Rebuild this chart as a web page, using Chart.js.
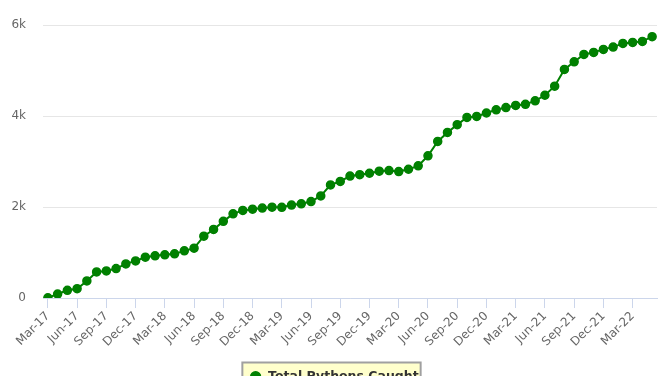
<!DOCTYPE html>
<html>
<head>
<meta charset="utf-8">
<script src="https://cdn.jsdelivr.net/npm/chart.js@4/dist/chart.umd.min.js"></script>
<style>
  html, body { margin: 0; padding: 0; background: #fff; overflow: hidden; }
  #wrap { width: 668px; height: 393px; position: relative; }
</style>
</head>
<body>
<div id="wrap"><canvas id="pythonChart"></canvas></div>
<script>
// Months, Mar-17 .. May-22
const months = [
  "Mar-17", "Apr-17", "May-17", "Jun-17", "Jul-17", "Aug-17", "Sep-17", "Oct-17", "Nov-17", "Dec-17",
  "Jan-18", "Feb-18", "Mar-18", "Apr-18", "May-18", "Jun-18", "Jul-18", "Aug-18", "Sep-18", "Oct-18", "Nov-18", "Dec-18",
  "Jan-19", "Feb-19", "Mar-19", "Apr-19", "May-19", "Jun-19", "Jul-19", "Aug-19", "Sep-19", "Oct-19", "Nov-19", "Dec-19",
  "Jan-20", "Feb-20", "Mar-20", "Apr-20", "May-20", "Jun-20", "Jul-20", "Aug-20", "Sep-20", "Oct-20", "Nov-20", "Dec-20",
  "Jan-21", "Feb-21", "Mar-21", "Apr-21", "May-21", "Jun-21", "Jul-21", "Aug-21", "Sep-21", "Oct-21", "Nov-21", "Dec-21",
  "Jan-22", "Feb-22", "Mar-22", "Apr-22", "May-22",
];

// Cumulative count of pythons caught
const pythonsCaught = [
  5, 88, 170, 205, 375, 574, 596, 647, 750, 816,
  897, 927, 949, 971, 1037, 1096, 1360, 1507, 1685, 1850, 1926, 1952,
  1978, 1996, 1993, 2044, 2070, 2120, 2243, 2486, 2562, 2680, 2710, 2742,
  2787, 2802, 2780, 2830, 2905, 3126, 3441, 3640, 3810, 3970, 3990, 4066,
  4136, 4185, 4232, 4257, 4335, 4456, 4655, 5023, 5191, 5354, 5398, 5464,
  5515, 5596, 5618, 5640, 5743,
];

const yTicks = [0, 2000, 4000, 6000];

const seriesName = "Total Pythons Caught";
const green = "#008000";
const fontFamily = "'DejaVu Sans', Verdana, sans-serif";

// draws the pale yellow box behind the legend
const legendBox = {
  id: "legendBox",
  beforeDraw(chart) {
    const lg = chart.legend;
    if (!lg || !lg.legendHitBoxes || !lg.legendHitBoxes.length) return;
    const hb = lg.legendHitBoxes[0];
    const ctx = chart.ctx;
    const x = hb.left - 7;
    const y = hb.top - 8;
    const w = hb.width + 9;
    const h = hb.height + 16;
    ctx.save();
    ctx.fillStyle = "#ffffcc";
    ctx.fillRect(x, y, w, h);
    ctx.strokeStyle = "#a0a0a0";
    ctx.lineWidth = 2;
    ctx.strokeRect(x, y, w, h);
    ctx.restore();
  },
};

new Chart(document.getElementById("pythonChart"), {
  type: "line",
  data: {
    labels: months,
    datasets: [
      {
        label: seriesName,
        data: pythonsCaught,
        borderColor: green,
        backgroundColor: green,
        borderWidth: 2,
        fill: false,
        tension: 0,
        pointRadius: 4,
        pointBorderWidth: 1.5,
        pointBackgroundColor: green,
        pointBorderColor: green,
      },
    ],
  },
  options: {
    responsive: true,
    maintainAspectRatio: false,
    animation: false,
    layout: {
      padding: { left: 11, right: 11, top: 25, bottom: 0 },
    },
    plugins: {
      title: { display: false },
      tooltip: { enabled: false },
      legend: {
        display: true,
        position: "bottom",
        labels: {
          usePointStyle: true,
          pointStyle: "circle",
          boxWidth: 18,
          boxHeight: 7,
          padding: 8,
          color: "#333",
          font: { family: fontFamily, size: 12.5, weight: "bold" },
        },
      },
    },
    scales: {
      x: {
        offset: true,
        border: { display: true, color: "#ccd6eb", width: 1 },
        grid: {
          display: true,
          drawOnChartArea: false,
          drawTicks: true,
          tickLength: 10,
          color: "#ccd6eb",
        },
        ticks: {
          autoSkip: false,
          maxRotation: 45,
          minRotation: 45,
          padding: 1,
          color: "#666",
          font: { family: fontFamily, size: 12 },
          callback: (val, idx) => (idx % 3 === 0 ? months[idx] : null),
        },
        afterFit: (scale) => {
          // let the first rotated label hang left of the plot, like the original
          scale.paddingLeft = 0;
          scale.paddingRight = 0;
          scale.height += 12;
        },
      },
      y: {
        min: 0,
        max: 6000,
        afterBuildTicks: (scale) => {
          scale.ticks = yTicks.map((v) => ({ value: v }));
        },
        afterFit: (scale) => {
          // chart.js counts the tick padding twice for the width
          scale.width = 32;
        },
        border: { display: false },
        grid: { color: "#e6e6e6", drawTicks: false },
        ticks: {
          padding: 17,
          color: "#666",
          font: { family: fontFamily, size: 12 },
          callback: (v) => (v === 0 ? "0" : v / 1000 + "k"),
        },
      },
    },
  },
  plugins: [legendBox],
});
</script>
</body>
</html>
